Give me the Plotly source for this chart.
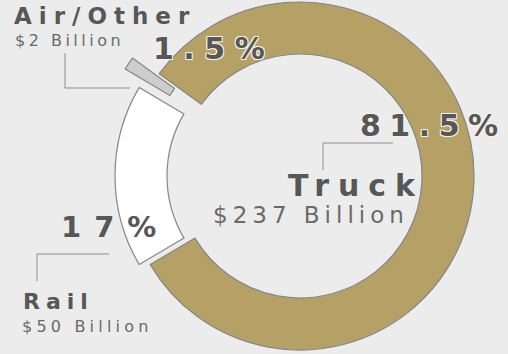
import math
import plotly.graph_objects as go

# Freight value by mode
modes = ["Truck", "Rail", "Air/Other"]
shares = [81.5, 17, 1.5]            # percent of total value
values_bn = [237, 50, 2]            # billions of dollars
share_labels = ["81.5%", "17%", "1.5%"]

# Canvas and ring geometry (pixels)
W, H = 508, 354
BG = "#ececec"
ring_cx, ring_cy, ring_r = 300, 176, 174
ring_width = 52
rotation = -54

slice_colors = ["#b5a066", "#ffffff", "#cdcdcd"]
edge_color = "#868686"
pull_px = [0, 11, 31]               # how far each slice is pushed out
slice_radius = [174, 174, 140]      # radius of the pie drawing each slice

total = sum(shares)


def mid_angle(i):
    start = rotation + 360 * sum(shares[:i]) / total
    return math.radians(start + 360 * shares[i] / total / 2)


def clamp(v):
    return min(1.0, max(0.0, v))


def domain(cx, cy, r):
    return dict(x=[clamp((cx - r) / W), clamp((cx + r) / W)],
                y=[clamp(1 - (cy + r) / H), clamp(1 - (cy - r) / H)])


fig = go.Figure()
for i, name in enumerate(modes):
    a = mid_angle(i)
    ux, uy = math.sin(a), -math.cos(a)
    r = slice_radius[i]
    reach = ring_r + pull_px[i]
    cx = ring_cx + (reach - r) * ux
    cy = ring_cy + (reach - r) * uy
    colors = ["rgba(0,0,0,0)"] * len(modes)
    colors[i] = slice_colors[i]
    widths = [0] * len(modes)
    widths[i] = 1.2
    fig.add_trace(go.Pie(
        labels=modes, values=shares, sort=False, direction="clockwise",
        rotation=rotation, hole=(r - ring_width) / r,
        domain=domain(cx, cy, r),
        marker=dict(colors=colors, line=dict(color=edge_color, width=widths)),
        textinfo="none", hoverinfo="label+percent", showlegend=False,
    ))

DARK = "#575757"
MID = "#6a6a6a"
OUTLINE = ("1px 1px 0 #f4f1e6, -1px -1px 0 #f4f1e6, "
           "1px -1px 0 #f4f1e6, -1px 1px 0 #f4f1e6")


def label(text, x, y, size, spacing, bold=False, color=DARK, shadow="none"):
    # widen the glyph spacing of the whole label
    body = f'<span style="letter-spacing:{spacing}px">{text}</span>'
    return dict(
        text=body,
        x=x / W, y=1 - y / H, xref="paper", yref="paper",
        xanchor="left", yanchor="middle", showarrow=False,
        font=dict(family="DejaVu Sans", size=size, color=color,
                  weight="bold" if bold else "normal", shadow=shadow),
    )


def money(v):
    return f"${v} Billion"


annotations = [
    label(modes[2], 12, 16.5, 23, 7, bold=True),
    label(money(values_bn[2]), 13, 41, 16, 3.5, color=MID),
    label(share_labels[2], 151, 48.5, 30, 9.5, bold=True, shadow=OUTLINE),
    label(share_labels[0], 358, 125, 30, 8.5, bold=True, shadow=OUTLINE),
    label(modes[0], 286, 185.5, 30, 9, bold=True),
    label(money(values_bn[0]), 211, 215, 23, 5, color=MID),
    label(share_labels[1], 59, 227, 29, 13, bold=True),
    label(modes[1], 21, 301, 22, 6, bold=True),
    label(money(values_bn[1]), 20, 326, 16, 4.2, color=MID),
]

# Leader lines tying the labels to their figures
leaders = [
    [(65, 53), (65, 88), (130, 88)],
    [(393, 143), (323, 143), (323, 170)],
    [(109, 254), (37, 254), (37, 281)],
]
shapes = []
for pts in leaders:
    path = "M " + " L ".join(f"{x / W:.5f},{1 - y / H:.5f}" for x, y in pts)
    shapes.append(dict(type="path", xref="paper", yref="paper", path=path,
                       line=dict(color="#8c8c8c", width=1)))

fig.update_layout(
    width=W, height=H, autosize=False,
    margin=dict(l=0, r=0, t=0, b=0),
    paper_bgcolor=BG, plot_bgcolor=BG,
    annotations=annotations, shapes=shapes,
)

fig.write_html("out.html")
